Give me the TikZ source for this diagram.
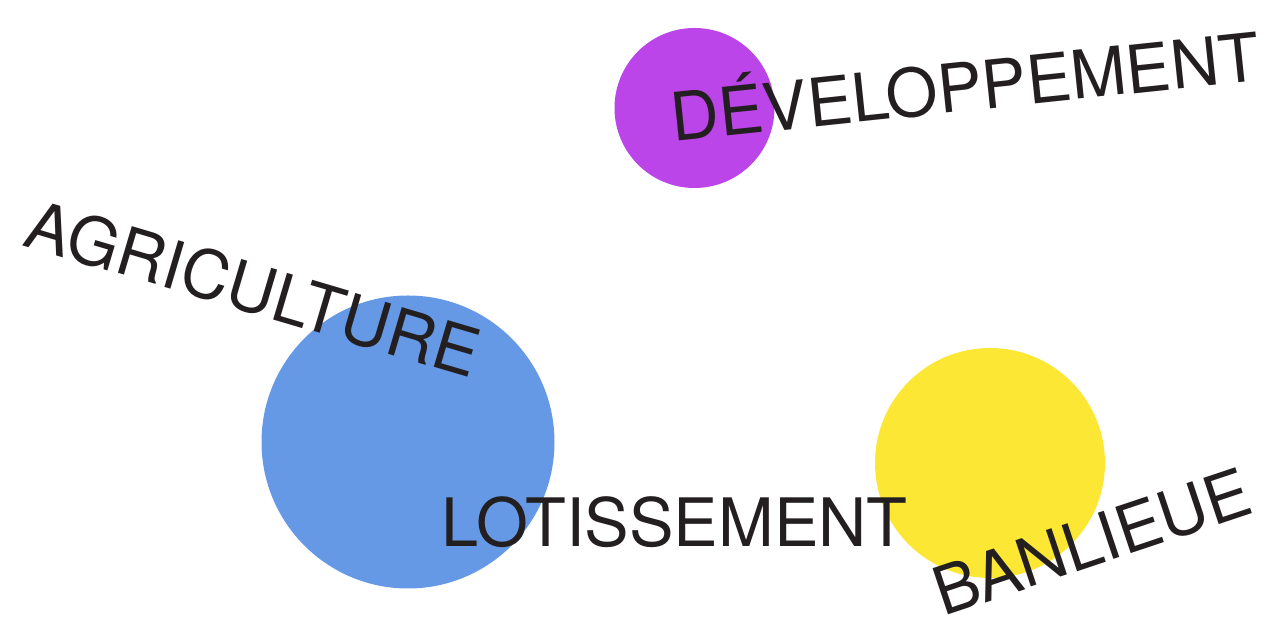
\documentclass[tikz,border=0pt]{standalone}
\usepackage{fontspec}
\setmainfont{TeX Gyre Heros}
\usepackage{xcolor}
\definecolor{violet}{HTML}{BB45E8}
\definecolor{bleu}{HTML}{6699E5}
\definecolor{jaune}{HTML}{FCE734}
\definecolor{encre}{HTML}{231F20}
\tikzset{mot/.style={inner sep=0pt,anchor=base west,text=encre,font=\fontsize{19}{22}\selectfont}}
\begin{document}
\begin{tikzpicture}
		\useasboundingbox (0,0) rectangle (12.67,6.18);
		\def\rv{0.80}
		\def\rb{1.465}
		\def\rj{1.15}
		\fill[violet] (6.945,5.10) circle [radius=\rv];
		\fill[bleu] (4.08,1.76) circle [radius=\rb];
		\fill[jaune] (9.90,1.55) circle [radius=\rj];
		% les mots
		\node[mot,rotate=6] (dev) at (6.73,4.76) {DÉVELOPPEMENT};
		\node[mot,rotate=-16.5] (agri) at (0.21,3.73) {AGRICULTURE};
		\node[mot] (lot) at (4.41,0.71) {LOTISSEMENT};
		\node[mot,rotate=18.5] (ban) at (9.43,0.01) {BANLIEUE};
\end{tikzpicture}
\end{document}
